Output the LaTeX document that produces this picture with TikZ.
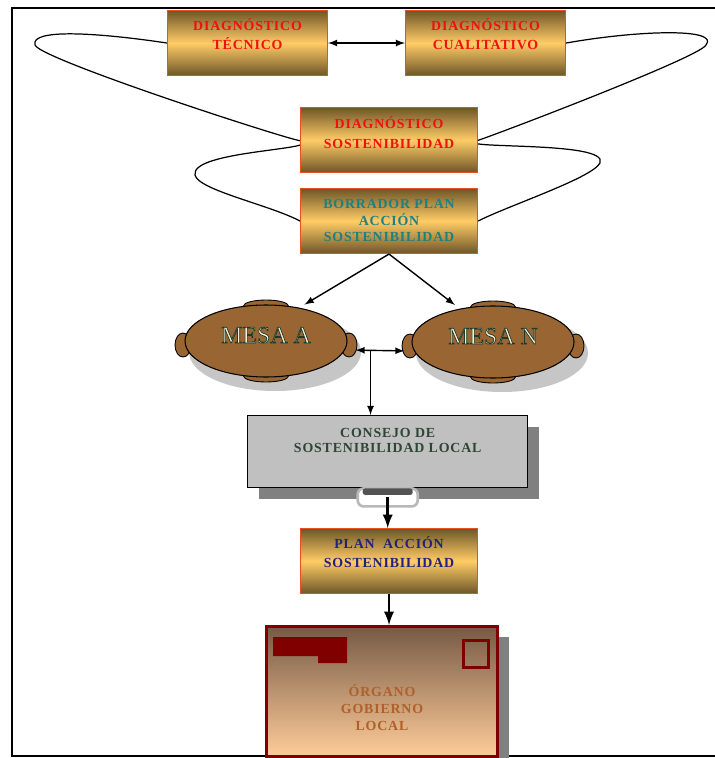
\documentclass[tikz,border=0pt]{standalone}
\usepackage{fontspec}
\setmainfont{Liberation Serif}
\newfontfamily\cajafont[LetterSpace=6]{Liberation Serif}
\usepackage{xcolor}
\usepackage{tikz}
\usetikzlibrary{arrows, shapes, calc, positioning, shadows}

\definecolor{oroclaro}{HTML}{FFCC66}
\definecolor{orooscuro}{HTML}{6E5628}
\definecolor{bordenaranja}{HTML}{E8501E}
\definecolor{rojotexto}{HTML}{F01010}
\definecolor{verdeazul}{HTML}{1E8080}
\definecolor{azulplan}{HTML}{22227A}
\definecolor{marron}{HTML}{996633}
\definecolor{grisconsejo}{HTML}{C0C0C0}
\definecolor{grissombra}{HTML}{808080}
\definecolor{textoconsejo}{HTML}{2E4636}
\definecolor{granate}{HTML}{800000}
\definecolor{pardo}{HTML}{765A46}
\definecolor{melocoton}{HTML}{FFCC99}
\definecolor{textoorgano}{HTML}{B0602A}
\definecolor{crema}{HTML}{F4F0D8}

\pgfdeclarelayer{background}
\pgfsetlayers{background,main}

% texto claro con borde oscuro
\newcommand\relieve[1]{\special{pdf:code q 2 Tr 0.4 w 0.12 0.22 0.16 RG}#1\special{pdf:code Q}}

\tikzset{
  caja/.style={draw=bordenaranja, line width=0.6pt, shading=axis, top color=orooscuro, bottom color=orooscuro, middle color=oroclaro, align=center, inner sep=0pt, minimum width=3.54cm, minimum height=1.3cm, font=\cajafont\bfseries\fontsize{7.9}{11.3}\selectfont},
  mesa/.style={ellipse, draw=black, line width=0.6pt, fill=marron, minimum width=3.24cm, minimum height=1.44cm, inner sep=0pt, text=crema, font=\fontsize{13.6}{14}\selectfont},
  silla/.style={fill=marron, draw=black, line width=0.5pt},
  flecha/.style={->, line width=0.8pt},
  gruesa/.style={->, line width=1.6pt}
}

\begin{document}
\begin{tikzpicture}[>=latex]

\coordinate(O1) at (0,0);
\useasboundingbox (O1) rectangle (14.28,-15.16);

\node[caja, below right=0.2cm and 3.34cm of O1, minimum width=3.2cm, text=rojotexto, text height=7.9pt, text depth=0pt](tec) {DIAGNÓSTICO\\TÉCNICO};
\node[caja, below right=0.2cm and 8.1cm of O1, minimum width=3.2cm, text=rojotexto, text height=7.9pt, text depth=0pt](cual) {DIAGNÓSTICO\\CUALITATIVO};
\node[caja, below right=2.14cm and 6cm of O1, text=rojotexto, text height=9.1pt, text depth=0pt](sost) {DIAGNÓSTICO\\SOSTENIBILIDAD};
\node[caja, below right=3.76cm and 6cm of O1, text=verdeazul, text height=23.8pt, text depth=0pt, font=\cajafont\bfseries\fontsize{7.9}{9.6}\selectfont](borr) {BORRADOR PLAN\\ACCIÓN\\SOSTENIBILIDAD};

% mesas
\coordinate(ca) at (5.32,-6.82);
\coordinate(cn) at (9.86,-6.84);
\fill[gray!45] ($(ca)+(0.18,-0.22)$) ellipse [x radius=1.72cm, y radius=0.78cm];
\fill[gray!45] ($(cn)+(0.18,-0.22)$) ellipse [x radius=1.72cm, y radius=0.78cm];
\filldraw[silla] ($(ca)+(0,0.7)$) ellipse [x radius=0.45cm, y radius=0.12cm];
\filldraw[silla] ($(ca)+(0,-0.7)$) ellipse [x radius=0.45cm, y radius=0.12cm];
\filldraw[silla] ($(ca)+(-1.66,-0.08)$) ellipse [x radius=0.16cm, y radius=0.24cm];
\filldraw[silla] ($(ca)+(1.66,-0.08)$) ellipse [x radius=0.16cm, y radius=0.24cm];
\filldraw[silla] ($(cn)+(0,0.7)$) ellipse [x radius=0.45cm, y radius=0.12cm];
\filldraw[silla] ($(cn)+(0,-0.7)$) ellipse [x radius=0.45cm, y radius=0.12cm];
\filldraw[silla] ($(cn)+(-1.66,-0.08)$) ellipse [x radius=0.16cm, y radius=0.24cm];
\filldraw[silla] ($(cn)+(1.66,-0.08)$) ellipse [x radius=0.16cm, y radius=0.24cm];
\node[mesa, text depth=6.8pt](ma) at (ca) {\relieve{MESA A}};
\node[mesa, text depth=6.8pt](mn) at (cn) {\relieve{MESA N}};

\node[below right=8.3cm and 4.94cm of O1, draw=black, line width=0.8pt, fill=grisconsejo, minimum width=5.6cm, minimum height=1.44cm, inner sep=0pt, drop shadow={shadow xshift=0.22cm, shadow yshift=-0.22cm, fill=grissombra, opacity=1}, align=center, text=textoconsejo, font=\cajafont\bfseries\fontsize{7.9}{8.5}\selectfont, text height=1.1pt, text depth=0pt](consejo) {CONSEJO DE\\SOSTENIBILIDAD LOCAL};
\node[below=0cm of consejo, draw=gray!55, line width=1.5pt, fill=white, rounded corners=0.12cm, minimum width=1.2cm, minimum height=0.36cm, inner sep=0pt, outer sep=0pt](asa) {};
\fill[gray!65!black, rounded corners=0.05cm] ($(asa.north west)+(0.1,0)$) rectangle ($(asa.north east)+(-0.1,-0.13)$);

\node[caja, below right=10.56cm and 6cm of O1, text=azulplan, text height=7.9pt, text depth=0pt](plan) {PLAN~~ACCIÓN\\SOSTENIBILIDAD};

\node[below right=12.5cm and 5.3cm of O1, draw=granate, line width=0.06cm, shading=axis, top color=pardo, bottom color=melocoton, minimum width=4.62cm, minimum height=2.6cm, inner sep=0pt, drop shadow={shadow xshift=0.22cm, shadow yshift=-0.2cm, fill=grissombra, opacity=1}, align=center, text=textoorgano, font=\cajafont\bfseries\fontsize{7.9}{9.6}\selectfont, text height=44.2pt, text depth=0pt](org) {ÓRGANO\\GOBIERNO\\LOCAL};
\fill[granate] ($(org.north west)+(0.16,-0.24)$) -- ($(org.north west)+(1.64,-0.24)$) -- ($(org.north west)+(1.64,-0.76)$) -- ($(org.north west)+(1.06,-0.76)$) -- ($(org.north west)+(1.06,-0.62)$) -- ($(org.north west)+(0.16,-0.62)$) -- cycle;
\draw[granate, line width=0.06cm] ($(org.north east)+(-0.72,-0.3)$) rectangle ($(org.north east)+(-0.22,-0.84)$);

\draw[<->, line width=0.8pt] (tec) -- (cual);
\draw[flecha, shorten >=0.12cm] (borr.south) -- (ma.45);
\draw[flecha, shorten >=0.12cm] (borr.south) -- (mn.135);
\draw[<->, line width=0.8pt, shorten <=0.16cm, shorten >=0.14cm] ([yshift=-0.18cm]ma.east) -- ([yshift=-0.18cm]mn.west);
\coordinate(cruce) at ($(ma.east)+(0.46,-0.18)$);
\draw[flecha] (cruce) -- (cruce |- consejo.north);
\draw[gruesa] (asa.center) -- (asa.center |- plan.north);
\draw[gruesa] (plan.south) -- (plan.south |- org.north);

\begin{pgfonlayer}{background}
\fill[white] (O1) rectangle (14.28,-15.16);
\draw[line width=0.05cm] (0.24,-0.16) rectangle (14.6,-15.12);
\draw[line width=0.7pt] (tec.west) .. controls (2.0,-0.66) and (0.6,-0.56) .. (0.7,-0.9)
  .. controls (0.8,-1.2) and (6.4,-3.0) .. (sost.west)
  .. controls (6.6,-3.0) and (3.8,-3.0) .. (3.9,-3.5)
  .. controls (3.96,-3.8) and (5.4,-4.1) .. (borr.west);
\draw[line width=0.7pt] (cual.east) .. controls (12.8,-0.6) and (14.4,-0.56) .. (14.12,-0.9)
  .. controls (14.0,-1.16) and (9.1,-3.0) .. (sost.east)
  .. controls (8.9,-3.0) and (12.2,-2.8) .. (12.0,-3.26)
  .. controls (11.84,-3.56) and (10.2,-4.1) .. (borr.east);
\end{pgfonlayer}
\end{tikzpicture}
\end{document}
